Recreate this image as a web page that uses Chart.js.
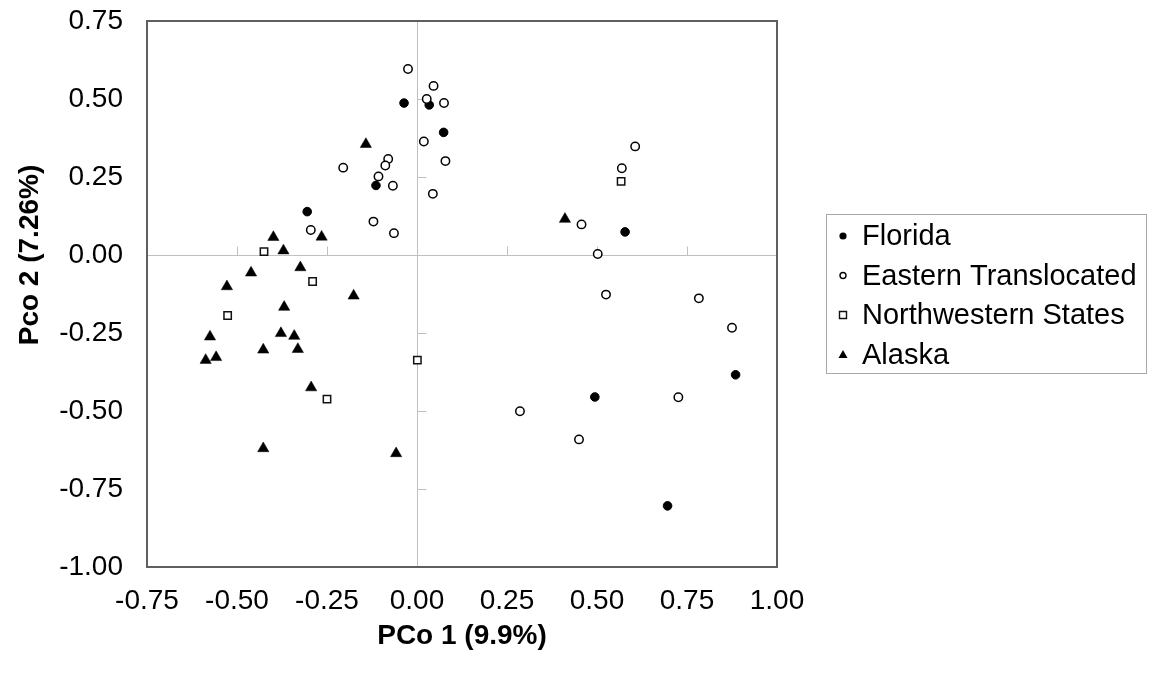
<!DOCTYPE html>
<html><head><meta charset="utf-8">
<script src="https://cdn.jsdelivr.net/npm/chart.js@4/dist/chart.umd.min.js"></script>
<style>html,body{margin:0;padding:0;background:#fff;} #wrap{position:relative;width:1149px;height:679px;}</style>
</head><body><div id="wrap"><canvas id="c" width="1149" height="679"></canvas></div>
<script>
const seriesNames = ['Florida', 'Eastern Translocated', 'Northwestern States', 'Alaska'];

const floridaX = [-0.036, 0.034, 0.074, -0.114, -0.305, 0.578, 0.885, 0.494, 0.696];
const floridaY = [0.487, 0.481, 0.393, 0.223, 0.139, 0.074, -0.384, -0.455, -0.804];

const easternX = [-0.025, 0.046, 0.027, 0.075, 0.019, 0.079, -0.080, -0.088, -0.205, -0.107, -0.067, 0.044, -0.121, -0.064, -0.295, 0.606, 0.569, 0.457, 0.502, 0.525, 0.783, 0.875, 0.726, 0.286, 0.450];
const easternY = [0.596, 0.542, 0.500, 0.487, 0.364, 0.301, 0.308, 0.287, 0.280, 0.252, 0.222, 0.196, 0.107, 0.070, 0.080, 0.348, 0.278, 0.098, 0.003, -0.127, -0.139, -0.233, -0.456, -0.501, -0.591];

const northwestX = [-0.425, -0.290, -0.526, 0.001, -0.250, 0.567];
const northwestY = [0.011, -0.085, -0.194, -0.337, -0.462, 0.236];

const alaskaX = [-0.142, -0.265, -0.399, -0.371, -0.461, -0.324, -0.176, -0.369, -0.528, -0.575, -0.378, -0.341, -0.427, -0.331, -0.587, -0.558, -0.294, -0.427, -0.058, 0.411];
const alaskaY = [0.355, 0.058, 0.057, 0.014, -0.057, -0.040, -0.131, -0.167, -0.101, -0.262, -0.251, -0.260, -0.304, -0.302, -0.337, -0.328, -0.425, -0.620, -0.636, 0.115];

const xTickValues = [-0.75, -0.5, -0.25, 0, 0.25, 0.5, 0.75, 1.0];
const yTickValues = [-1.0, -0.75, -0.5, -0.25, 0, 0.25, 0.5, 0.75];
const xTitle = 'PCo 1 (9.9%)';
const yTitle = 'Pco 2 (7.26%)';

const FONT = "'Liberation Sans', Arial, sans-serif";
const pts = (xs, ys) => xs.map((v, i) => ({x: v, y: ys[i]}));

const markerStyles = [
  {pointStyle: 'circle', pointRadius: 4.3, backgroundColor: '#000', borderColor: '#000', borderWidth: 1},
  {pointStyle: 'circle', pointRadius: 4.2, backgroundColor: '#fff', borderColor: '#000', borderWidth: 1.5},
  {pointStyle: 'rect', pointRadius: 5.2, backgroundColor: '#fff', borderColor: '#111', borderWidth: 1.5},
  {pointStyle: 'triangle', pointRadius: 6.5, backgroundColor: '#000', borderColor: '#000', borderWidth: 0.5}
];
const seriesData = [pts(floridaX, floridaY), pts(easternX, easternY), pts(northwestX, northwestY), pts(alaskaX, alaskaY)];

const framePlugin = {
  id: 'frame',
  beforeDatasetsDraw(chart) {
    const ctx = chart.ctx, xs = chart.scales.x, ys = chart.scales.y, ca = chart.chartArea;
    const x0 = Math.round(xs.getPixelForValue(0)) + 0.5;
    const y0 = Math.round(ys.getPixelForValue(0)) + 0.5;
    ctx.save();
    ctx.strokeStyle = '#c0c0c0'; ctx.lineWidth = 1;
    ctx.beginPath();
    ctx.moveTo(x0, ca.top); ctx.lineTo(x0, ca.bottom);
    ctx.moveTo(ca.left, y0); ctx.lineTo(ca.right, y0);
    xTickValues.forEach(v => { const p = Math.round(xs.getPixelForValue(v)) + 0.5; ctx.moveTo(p, y0); ctx.lineTo(p, y0 - 9); });
    yTickValues.forEach(v => { const p = Math.round(ys.getPixelForValue(v)) + 0.5; ctx.moveTo(x0, p); ctx.lineTo(x0 + 9, p); });
    ctx.stroke();
    ctx.strokeStyle = '#5f5f5f'; ctx.lineWidth = 2;
    ctx.strokeRect(ca.left, ca.top, ca.right - ca.left, ca.bottom - ca.top);
    ctx.restore();
  },
  afterDraw(chart) {
    const ctx = chart.ctx, ys = chart.scales.y;
    ctx.save();
    ctx.font = "bold 28px " + FONT;
    ctx.fillStyle = '#000';
    ctx.textAlign = 'center'; ctx.textBaseline = 'middle';
    ctx.translate(30, ys.getPixelForValue(0));
    ctx.rotate(-Math.PI / 2);
    ctx.fillText(yTitle, 0, 0);
    ctx.restore();
    ctx.save();
    ctx.strokeStyle = '#a8a8a8'; ctx.lineWidth = 1;
    ctx.strokeRect(826.5, 214.5, 320, 159);
    const rows = [236, 275.5, 315, 354.5];
    ctx.font = "29px " + FONT; ctx.textAlign = 'left'; ctx.textBaseline = 'middle'; ctx.fillStyle = '#000';
    seriesNames.forEach((name, i) => {
      const y = rows[i], x = 843;
      ctx.beginPath();
      if (i === 0) { ctx.arc(x, y, 3.6, 0, Math.PI * 2); ctx.fillStyle = '#000'; ctx.fill(); }
      else if (i === 1) { ctx.arc(x, y, 3, 0, Math.PI * 2); ctx.fillStyle = '#fff'; ctx.fill(); ctx.lineWidth = 1.4; ctx.strokeStyle = '#000'; ctx.stroke(); }
      else if (i === 2) { ctx.rect(x - 3.5, y - 3.5, 7, 7); ctx.fillStyle = '#fff'; ctx.fill(); ctx.lineWidth = 1.4; ctx.strokeStyle = '#111'; ctx.stroke(); }
      else { ctx.moveTo(x, y - 4.5); ctx.lineTo(x + 4.5, y + 3.5); ctx.lineTo(x - 4.5, y + 3.5); ctx.closePath(); ctx.fillStyle = '#000'; ctx.fill(); }
      ctx.fillStyle = '#000';
      ctx.fillText(name, 862, y + 1);
    });
    ctx.restore();
  }
};

new Chart(document.getElementById('c'), {
  type: 'scatter',
  data: {
    datasets: seriesNames.map((name, i) => Object.assign({label: name, data: seriesData[i], order: 3 - i}, markerStyles[i]))
  },
  options: {
    responsive: false,
    animation: false,
    devicePixelRatio: 1,
    layout: {padding: {left: 0, top: 21, right: 372, bottom: 0}},
    plugins: {legend: {display: false}, tooltip: {enabled: false}},
    scales: {
      x: {
        type: 'linear', position: 'bottom', min: -0.75, max: 1.0,
        afterBuildTicks: s => { s.ticks = xTickValues.map(v => ({value: v})); },
        afterFit: s => { s.height = 112; s.paddingLeft = 0; s.paddingRight = 0; },
        grid: {display: false, drawTicks: false},
        border: {display: false},
        ticks: {padding: 17, color: '#000', font: {family: FONT, size: 28}, maxRotation: 0, autoSkip: false,
                callback: v => Number(v).toFixed(2)},
        title: {display: true, text: xTitle, color: '#000', font: {family: FONT, size: 28, weight: 'bold'}, padding: {top: 0, bottom: 26}}
      },
      y: {
        type: 'linear', position: 'left', min: -1.0, max: 0.75,
        afterBuildTicks: s => { s.ticks = yTickValues.map(v => ({value: v})); },
        afterFit: s => { s.width = 147; s.paddingTop = 0; s.paddingBottom = 0; },
        grid: {display: false, drawTicks: false},
        border: {display: false},
        ticks: {padding: 24, color: '#000', font: {family: FONT, size: 28}, autoSkip: false,
                callback: v => Number(v).toFixed(2)}
      }
    }
  },
  plugins: [framePlugin]
});
</script></body></html>
